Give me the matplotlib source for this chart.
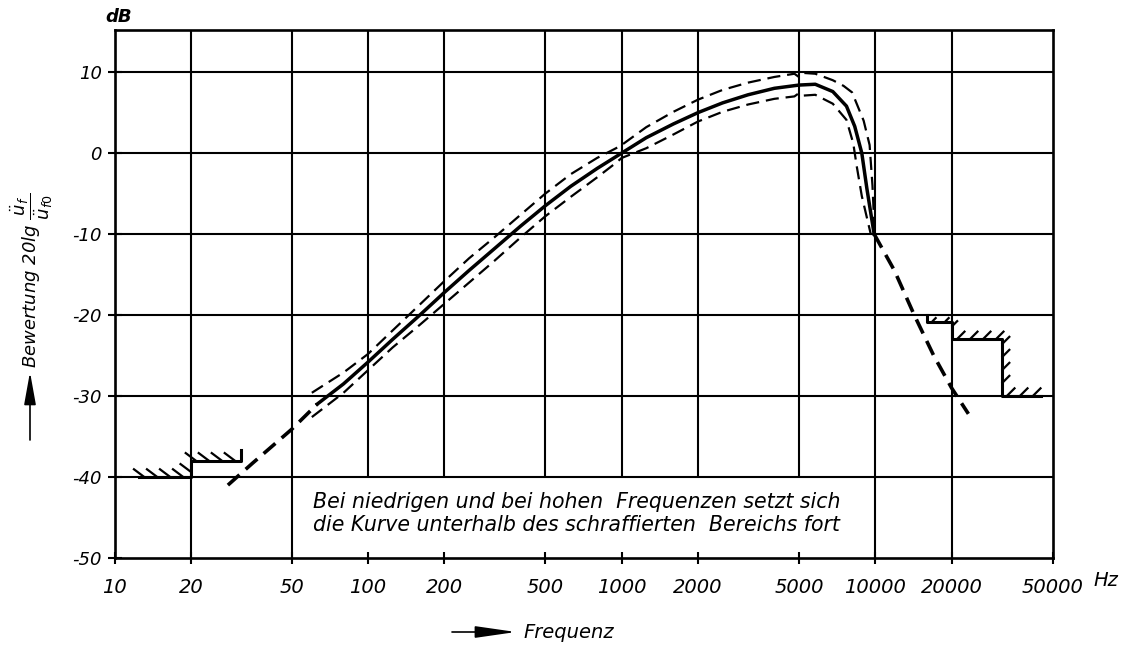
import numpy as np
import matplotlib
matplotlib.use("Agg")
import matplotlib.pyplot as plt

# axis ticks
FREQ_TICKS = [10, 20, 50, 100, 200, 500, 1000, 2000, 5000, 10000, 20000, 50000]
FREQ_LABELS = ["10", "20", "50", "100", "200", "500", "1000", "2000", "5000",
               "10000", "20000", "50000"]
DB_TICKS = [10, 0, -10, -20, -30, -40, -50]
DB_LABELS = ["10", "0", "-10", "-20", "-30", "-40", "-50"]

# nominal weighting curve (solid)
MAIN_F = [63, 80, 100, 125, 160, 200, 250, 315, 400, 500, 630, 800, 1000, 1250,
          1600, 2000, 2500, 3150, 4000, 5000, 5800, 6800, 7700, 8300, 8850,
          9270, 9900]
MAIN_DB = [-31.0, -28.5, -25.8, -23.0, -20.0, -17.2, -14.5, -11.8, -9.0, -6.5,
           -4.1, -1.9, 0.0, 1.9, 3.6, 5.0, 6.2, 7.2, 8.0, 8.4, 8.5, 7.6, 5.8,
           3.3, 0.0, -4.4, -10.0]

# tolerance limits (thin dashed)
UPPER_F = [60, 80, 100, 125, 160, 200, 250, 315, 400, 500, 630, 800, 950, 1000,
           1250, 1600, 2000, 2500, 3150, 4000, 4800, 5000, 5200, 5800, 6800,
           7500, 8100, 9000, 9500, 9750, 9950]
UPPER_DB = [-29.6, -27.1, -24.8, -21.9, -18.7, -15.8, -13.0, -10.4, -7.6, -5.0,
            -2.6, -0.6, 0.6, 1.0, 3.2, 5.1, 6.6, 7.8, 8.7, 9.4, 9.8, 9.4, 9.9,
            9.8, 9.0, 8.3, 7.5, 4.0, 1.0, -4.0, -10.0]
LOWER_F = [60, 80, 100, 125, 160, 200, 250, 315, 400, 500, 630, 800, 950, 1000,
           1250, 1600, 2000, 2500, 3150, 4000, 4800, 5000, 5200, 5800, 6800,
           7700, 8190, 8450, 8850, 9600]
LOWER_DB = [-32.6, -29.6, -26.8, -24.0, -21.2, -18.6, -16.0, -13.3, -10.4, -7.8,
            -5.4, -3.0, -1.2, -0.6, 0.6, 2.3, 3.9, 5.1, 6.0, 6.7, 7.0, 7.4, 7.1,
            7.2, 6.1, 4.1, 1.2, -1.6, -5.3, -10.0]

# continuation of the curve (thick dashed)
LOW_EXT_F = [28, 35, 50, 63]
LOW_EXT_DB = [-41.0, -38.3, -34.1, -31.0]
HIGH_EXT_F = [9900, 11900, 14250, 17000, 20000, 23300]
HIGH_EXT_DB = [-10.0, -14.5, -20.0, -25.0, -29.0, -32.2]

# hatched limits
LOW_LIMIT_F = [12.5, 20, 20, 31.5, 31.5]
LOW_LIMIT_DB = [-40, -40, -38, -38, -36.7]
HIGH_LIMIT_F = [16000, 16000, 20000, 20000, 31500, 31500, 45000]
HIGH_LIMIT_DB = [-20, -20.8, -20.8, -23, -23, -30, -30]

NOTE_1 = "Bei niedrigen und bei hohen  Frequenzen setzt sich"
NOTE_2 = "die Kurve unterhalb des schraffierten  Bereichs fort"

W, H = 1128, 648


def fx(px):
    return px / W


def fy(py):
    return 1 - py / H


def hatch(ax, fs, dbs, lengths, direction, spacing=13):
    to_px = ax.transData
    to_data = ax.transData.inverted()
    d = np.array(direction, dtype=float)
    d /= np.hypot(*d)
    for i, length in enumerate(lengths):
        if length <= 0:
            continue
        p0 = to_px.transform((fs[i], dbs[i]))
        p1 = to_px.transform((fs[i + 1], dbs[i + 1]))
        seg = p1 - p0
        n = np.hypot(*seg)
        s = spacing * 0.4
        while s < n:
            a = p0 + seg * s / n
            b = a + d * length
            pa, pb = to_data.transform([a, b])
            ax.plot([pa[0], pb[0]], [pa[1], pb[1]], color="black", lw=1.6,
                    solid_capstyle="butt", zorder=4)
            s += spacing


fig = plt.figure(figsize=(W / 100, H / 100), dpi=100)
fig.patch.set_facecolor("white")
ax = fig.add_axes([fx(114.5), fy(558), fx(938), 528 / H])
ax.set_xscale("log")
ax.set_xlim(10, 50000)
ax.set_ylim(-50, 15.2)
ax.minorticks_off()

for f in FREQ_TICKS[1:-1]:
    bottom = -40 if 50 < f < 10000 else -50
    ax.vlines(f, bottom, 15.2, color="black", lw=1.5, zorder=1)
for d in DB_TICKS[:-1]:
    ax.axhline(d, color="black", lw=1.5, zorder=1)

for sp in ax.spines.values():
    sp.set_linewidth(1.9)

ax.set_xticks(FREQ_TICKS)
ax.set_xticklabels(FREQ_LABELS, fontsize=14, fontstyle="italic")
ax.set_yticks(DB_TICKS)
ax.set_yticklabels(DB_LABELS, fontsize=13, fontstyle="italic")
ax.tick_params(axis="x", direction="inout", length=9, width=1.5, pad=10)
ax.tick_params(axis="y", direction="inout", length=10, width=1.5, pad=4)

# curves
ax.plot(MAIN_F, MAIN_DB, color="black", lw=2.5, zorder=3)
ax.plot(UPPER_F, UPPER_DB, color="black", lw=1.6, ls=(0, (5.9, 3.1)), zorder=3)
ax.plot(LOWER_F, LOWER_DB, color="black", lw=1.6, ls=(0, (5.9, 3.1)), zorder=3)
ax.plot(LOW_EXT_F, LOW_EXT_DB, color="black", lw=2.6, ls=(0, (4.3, 2.3)), zorder=3)
ax.plot(HIGH_EXT_F, HIGH_EXT_DB, color="black", lw=2.6, ls=(0, (4.3, 2.3)), zorder=3)

# hatched limits
ax.plot(LOW_LIMIT_F, LOW_LIMIT_DB, color="black", lw=2.2, zorder=4)
ax.plot(HIGH_LIMIT_F, HIGH_LIMIT_DB, color="black", lw=2.2, zorder=4)
hatch(ax, LOW_LIMIT_F, LOW_LIMIT_DB, [14, 14, 14, 0], (-1.0, 0.75))
hatch(ax, HIGH_LIMIT_F, HIGH_LIMIT_DB, [0, 6, 9, 12, 12, 12], (1.0, 1.0))

# texts
fig.text(fx(119), fy(17), "dB", ha="center", va="center", fontsize=13,
         fontstyle="italic", fontweight="bold")
fig.text(fx(1106), fy(581), "Hz", ha="center", va="center", fontsize=14,
         fontstyle="italic")
fig.text(fx(313), fy(502), NOTE_1, ha="left", va="center", fontsize=14.8,
         fontstyle="italic")
fig.text(fx(313), fy(525), NOTE_2, ha="left", va="center", fontsize=14.8,
         fontstyle="italic")

fig.text(fx(32), fy(368), r"Bewertung 20lg $\dfrac{\ddot{u}_f}{\ddot{u}_{f0}}$",
         rotation=90, ha="center", va="bottom", fontsize=13, fontstyle="italic")
fig.patches.append(matplotlib.patches.FancyArrowPatch(
    (fx(30), fy(440)), (fx(30), fy(372)), transform=fig.transFigure,
    arrowstyle="-|>,head_length=1.0,head_width=0.18", mutation_scale=20,
    shrinkA=0, shrinkB=0, color="black", lw=1.2))

fig.text(fx(523), fy(632), "Frequenz", ha="left", va="center", fontsize=14,
         fontstyle="italic")
fig.patches.append(matplotlib.patches.FancyArrowPatch(
    (fx(452), fy(632)), (fx(516), fy(632)), transform=fig.transFigure,
    arrowstyle="-|>,head_length=1.25,head_width=0.18", mutation_scale=20,
    shrinkA=0, shrinkB=0, color="black", lw=1.2))

fig.savefig("out.png", dpi=100)
